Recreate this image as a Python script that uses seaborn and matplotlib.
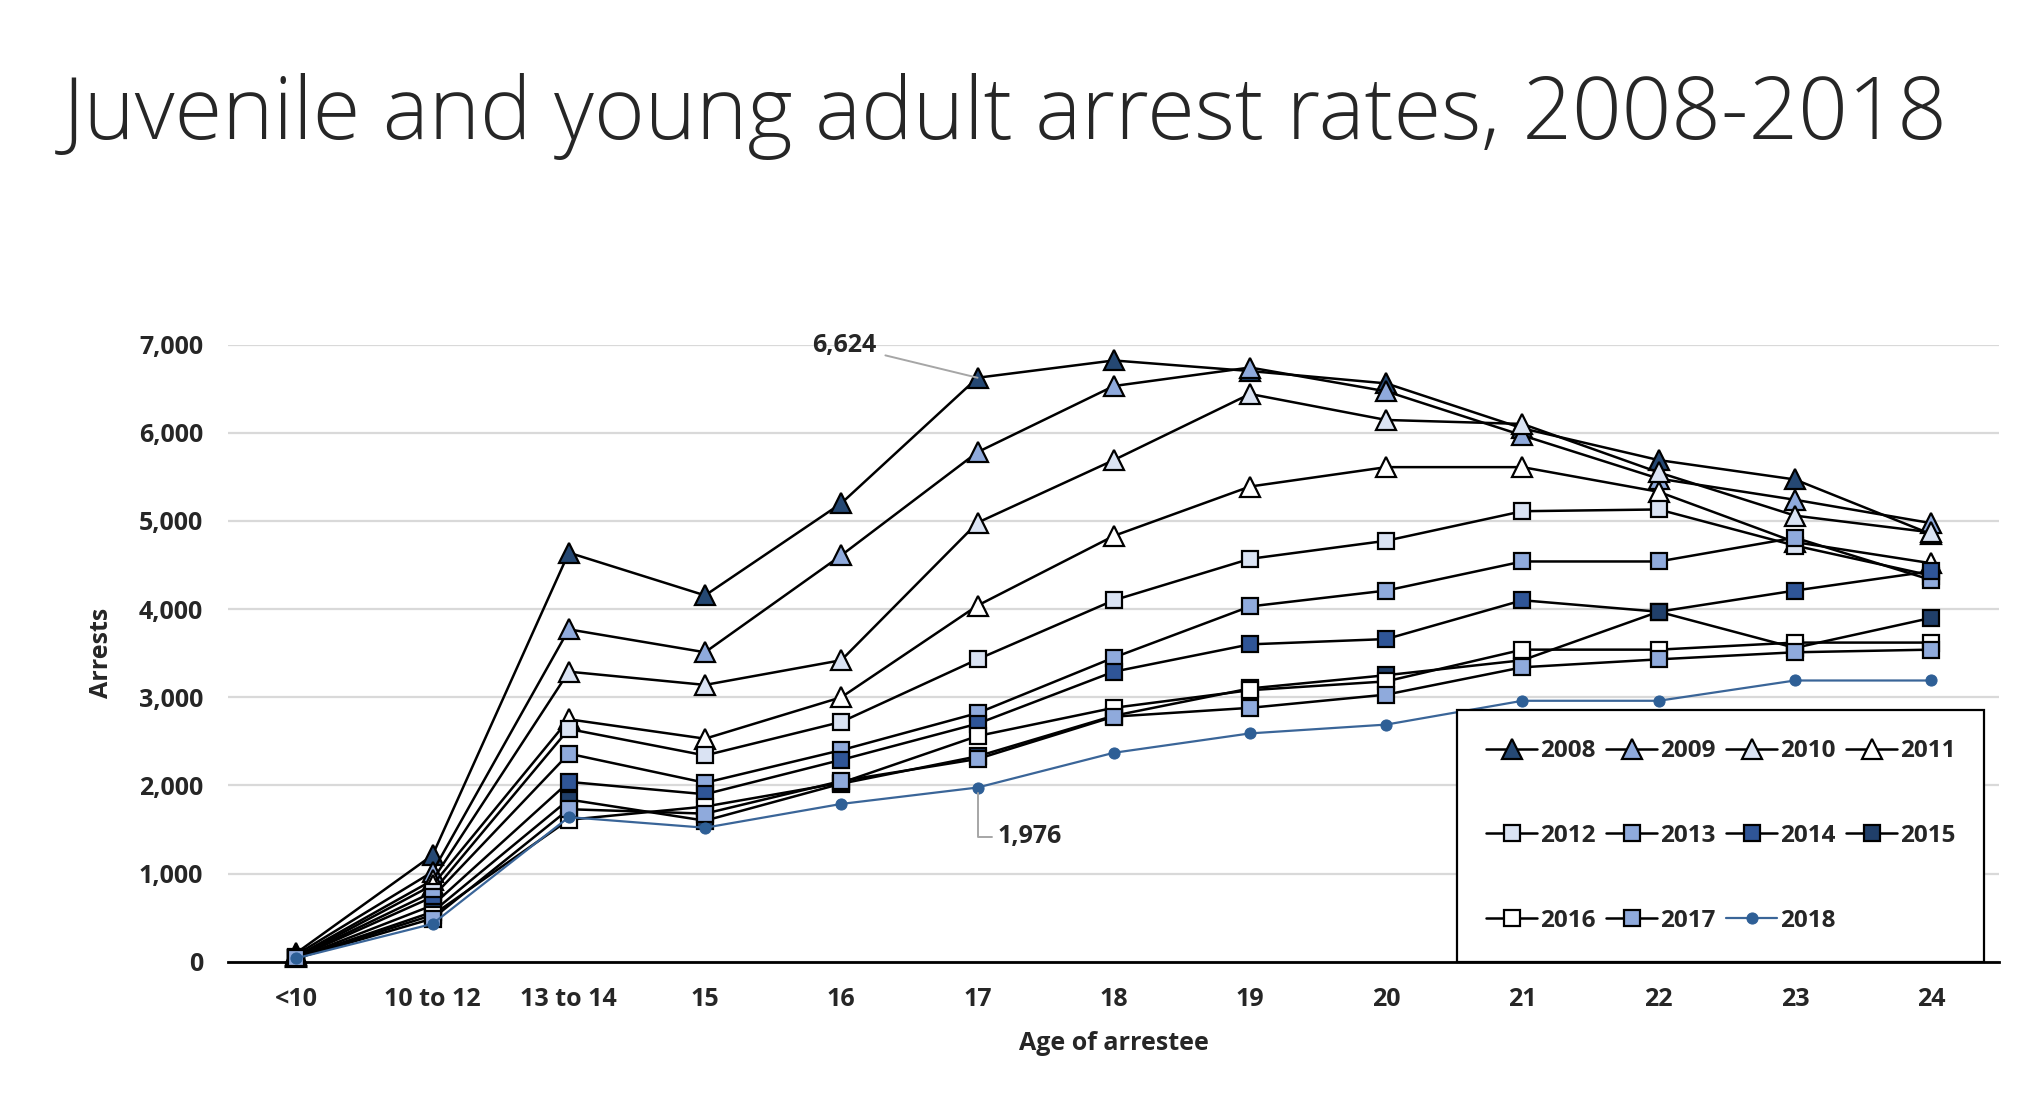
import matplotlib
matplotlib.use("Agg")
import matplotlib.pyplot as plt
import seaborn as sns
import pandas as pd

# age groups on the x axis
ages = ["<10", "10 to 12", "13 to 14", "15", "16", "17", "18", "19", "20", "21", "22", "23", "24"]

# arrests per year
a2008 = [100, 1210, 4640, 4155, 5200, 6624, 6820, 6700, 6560, 6050, 5690, 5470, 4850]
a2009 = [80, 1020, 3770, 3510, 4610, 5780, 6530, 6740, 6470, 5970, 5480, 5240, 4975]
a2010 = [60, 925, 3290, 3140, 3420, 4980, 5690, 6440, 6145, 6100, 5550, 5060, 4870]
a2011 = [50, 870, 2750, 2530, 3000, 4040, 4830, 5390, 5610, 5610, 5330, 4760, 4520]
a2012 = [50, 790, 2640, 2340, 2720, 3430, 4100, 4570, 4775, 5110, 5130, 4720, 4380]
a2013 = [45, 735, 2360, 2030, 2400, 2820, 3450, 4030, 4210, 4540, 4540, 4810, 4330]
a2014 = [40, 640, 2040, 1900, 2290, 2700, 3290, 3600, 3660, 4100, 3970, 4210, 4430]
a2015 = [40, 565, 1840, 1600, 2020, 2330, 2790, 3100, 3250, 3420, 3970, 3560, 3900]
a2016 = [40, 530, 1610, 1760, 2030, 2560, 2880, 3080, 3180, 3540, 3540, 3620, 3620]
a2017 = [40, 490, 1730, 1680, 2050, 2300, 2780, 2880, 3030, 3340, 3430, 3510, 3540]
a2018 = [40, 430, 1640, 1520, 1790, 1976, 2370, 2590, 2690, 2960, 2960, 3190, 3190]

years = [2008, 2009, 2010, 2011, 2012, 2013, 2014, 2015, 2016, 2017, 2018]
series = [a2008, a2009, a2010, a2011, a2012, a2013, a2014, a2015, a2016, a2017, a2018]

# marker styles per year
markers = ["^", "^", "^", "^", "s", "s", "s", "s", "s", "s", "o"]
faces = ["#254873", "#8faadc", "#dae3f3", "#ffffff", "#dae3f3", "#8faadc",
         "#2f5597", "#203f6a", "#ffffff", "#8faadc", "#2e5f96"]

rows = []
for yr, vals in zip(years, series):
    for i, v in enumerate(vals):
        rows.append({"year": yr, "pos": i, "age": ages[i], "arrests": v})
df = pd.DataFrame(rows)

sns.set_style("white")
plt.rcParams["font.family"] = ["Open Sans", "DejaVu Sans"]

fig = plt.figure(figsize=(20.38, 11.08), dpi=100)
ax = fig.add_axes([0.112, 0.132, 0.869, 0.557])

for yr, mk, fc in zip(years, markers, faces):
    sub = df[df["year"] == yr]
    if yr == 2018:
        sns.lineplot(data=sub, x="pos", y="arrests", ax=ax, color="#3a6598",
                     linewidth=1.6, marker="o", markersize=8, markerfacecolor=fc,
                     markeredgecolor=fc, label=str(yr), clip_on=False, zorder=3)
    else:
        ms = 14 if mk == "^" else 12
        sns.lineplot(data=sub, x="pos", y="arrests", ax=ax, color="black",
                     linewidth=1.8, marker=mk, markersize=ms, markerfacecolor=fc,
                     markeredgecolor="black", markeredgewidth=1.6, label=str(yr),
                     clip_on=False, zorder=3)

ax.set_xlim(-0.5, len(ages) - 0.5)
ax.set_ylim(0, 7000)
ax.set_xticks(range(len(ages)))
ax.set_xticklabels(ages)
ax.set_yticks(range(0, 7001, 1000))
ax.set_yticklabels([f"{v:,}" for v in range(0, 7001, 1000)])
ax.tick_params(axis="both", length=0, labelsize=18)
ax.tick_params(axis="x", pad=18)
ax.tick_params(axis="y", pad=18)
for lbl in ax.get_xticklabels() + ax.get_yticklabels():
    lbl.set_fontweight("bold")
ax.grid(axis="y", color="#d9d9d9", linewidth=1.6)
ax.set_axisbelow(True)
for s in ["left", "right", "top"]:
    ax.spines[s].set_visible(False)
ax.spines["bottom"].set_color("black")
ax.spines["bottom"].set_linewidth(2)
ax.spines["bottom"].set_zorder(2)

ax.set_xlabel("Age of arrestee", fontsize=18, fontweight="bold", labelpad=14)
ax.set_ylabel("Arrests", fontsize=18, fontweight="bold", labelpad=18)

# callouts
ax.annotate(f"{a2008[5]:,}", xy=(5, a2008[5]), xytext=(4.26, 6990),
            fontsize=18, fontweight="bold", ha="right", va="center",
            arrowprops=dict(arrowstyle="-", color="#a6a6a6", lw=1.4,
                            shrinkA=4, shrinkB=0))
ax.annotate(f"{a2018[5]:,}", xy=(5, a2018[5]), xytext=(5.15, 1420),
            fontsize=18, fontweight="bold", ha="left", va="center",
            arrowprops=dict(arrowstyle="-", color="#a6a6a6", lw=1.4,
                            connectionstyle="angle,angleA=0,angleB=90,rad=0",
                            shrinkA=2, shrinkB=4))

# legend filled row by row like the original
handles, labels = ax.get_legend_handles_labels()
order = [0, 4, 8, 1, 5, 9, 2, 6, 10, 3, 7]
leg = ax.legend([handles[i] for i in order], [labels[i] for i in order],
                ncol=4, loc="lower right", bbox_to_anchor=(0.9915, 0.0),
                borderaxespad=0, frameon=True, fancybox=False,
                edgecolor="black", framealpha=1.0,
                handlelength=2.1, handletextpad=0.1, columnspacing=0.45,
                labelspacing=2.5, borderpad=1.2,
                prop={"weight": "bold", "size": 17.5})
leg.get_frame().set_linewidth(1.6)
leg.set_zorder(5)

fig.text(0.031, 0.895, "Juvenile and young adult arrest rates, 2008-2018",
         fontsize=62.5, fontweight="light", va="center", ha="left")

fig.savefig("out.png", dpi=100)
